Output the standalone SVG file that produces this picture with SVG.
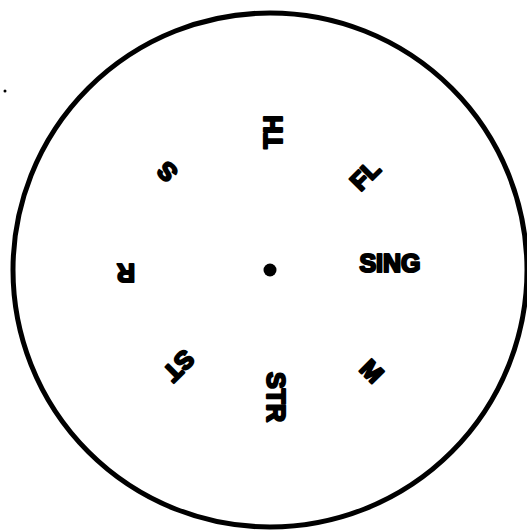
<svg xmlns="http://www.w3.org/2000/svg" width="527" height="530" viewBox="0 0 527 530">
<style>
.lbl{font-family:"Liberation Sans",Arial,sans-serif;font-weight:bold;font-size:25px;fill:#000;stroke:#000;stroke-width:2.2;stroke-linejoin:round;text-anchor:middle;dominant-baseline:central}
</style>
<rect width="527" height="530" fill="#fff"/>
<g id="outer"><circle cx="270" cy="270" r="257" fill="none" stroke="#000" stroke-width="5"/></g>
<g id="center"><circle cx="270" cy="270" r="6.5" fill="#000"/></g>
<circle cx="5" cy="91" r="1.5" fill="#000"/>
<g id="connectors"></g>
<g id="n-TH"><text class="lbl" transform="translate(273,132) rotate(-90)">TH</text></g>
<g id="n-FL"><text class="lbl" transform="translate(365,175) rotate(-45)">FL</text></g>
<g id="n-SING"><text class="lbl" transform="translate(390,263)">SING</text></g>
<g id="n-M"><text class="lbl" transform="translate(372,371) rotate(45)">M</text></g>
<g id="n-STR"><text class="lbl" transform="translate(276,397) rotate(90)">STR</text></g>
<g id="n-ST"><text class="lbl" transform="translate(179,366) rotate(135)">ST</text></g>
<g id="n-R"><text class="lbl" transform="translate(126,273) rotate(180)">R</text></g>
<g id="n-S"><text class="lbl" transform="translate(167,172) rotate(-135)">S</text></g>
</svg>
